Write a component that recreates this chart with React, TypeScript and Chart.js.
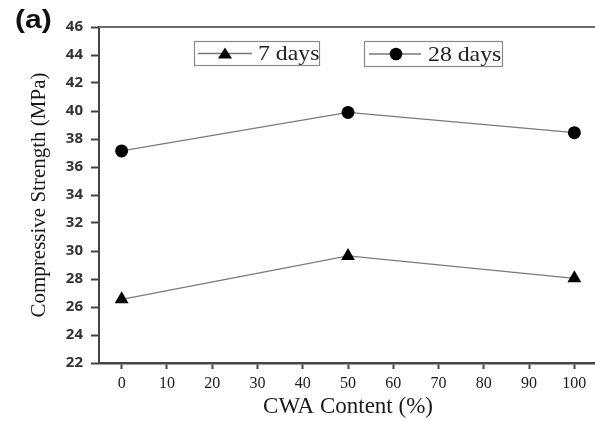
import React, { useEffect, useRef } from "react";
import { Chart, registerables } from "chart.js";

Chart.register(...registerables);

const cwaContent = [0, 50, 100];
const days7 = [26.55, 29.65, 28.05];
const days28 = [37.15, 39.9, 38.45];
const xTickValues = [0, 10, 20, 30, 40, 50, 60, 70, 80, 90, 100];
const seriesLabels = ["7 days", "28 days"];
const panelLabel = "(a)";
const xTitle = "CWA Content (%)";
const yTitle = "Compressive Strength (MPa)";

const SERIF = "'Liberation Serif', 'Times New Roman', serif";

const extrasPlugin = {
  id: "extras",
  afterDraw(chart: any) {
    const { ctx, chartArea } = chart;
    ctx.save();
    // top frame line
    ctx.strokeStyle = "#6a6a6a";
    ctx.lineWidth = 2;
    ctx.beginPath();
    ctx.moveTo(chartArea.left, chartArea.top);
    ctx.lineTo(chartArea.right, chartArea.top);
    ctx.stroke();

    // panel label
    ctx.fillStyle = "#111";
    ctx.font = "bold 25px 'Liberation Sans', Arial, sans-serif";
    ctx.textBaseline = "alphabetic";
    ctx.save();
    ctx.translate(15, 28);
    ctx.scale(1.2, 1);
    ctx.fillText(panelLabel, 0, 0);
    ctx.restore();

    // legend boxes
    const boxes = [
      { x: 194.5, y: 41.5, w: 125, h: 24, lx0: 198, lx1: 252, mx: 225, tx: 258, style: "triangle", text: seriesLabels[0] },
      { x: 364.5, y: 41.5, w: 138, h: 25, lx0: 369, lx1: 421, mx: 396, tx: 428, style: "circle", text: seriesLabels[1] },
    ];
    boxes.forEach((b) => {
      ctx.strokeStyle = "#8a8a8a";
      ctx.lineWidth = 1.2;
      ctx.strokeRect(b.x, b.y, b.w, b.h);
      const cy = b.y + b.h / 2;
      ctx.strokeStyle = "#777";
      ctx.lineWidth = 1.3;
      ctx.beginPath();
      ctx.moveTo(b.lx0, cy);
      ctx.lineTo(b.lx1, cy);
      ctx.stroke();
      ctx.fillStyle = "#000";
      ctx.beginPath();
      if (b.style === "triangle") {
        ctx.moveTo(b.mx, cy - 6);
        ctx.lineTo(b.mx + 7, cy + 5);
        ctx.lineTo(b.mx - 7, cy + 5);
        ctx.closePath();
      } else {
        ctx.arc(b.mx, cy, 6.3, 0, Math.PI * 2);
      }
      ctx.fill();
      ctx.fillStyle = "#222";
      ctx.font = `22px ${SERIF}`;
      ctx.textBaseline = "middle";
      ctx.save();
      ctx.translate(b.tx, cy + 1);
      ctx.scale(1.08, 1);
      ctx.fillText(b.text, 0, 0);
      ctx.restore();
    });
    ctx.restore();
  },
};

export default function App() {
  const canvasRef = useRef<HTMLCanvasElement>(null);

  useEffect(() => {
    if (!canvasRef.current) return;
    const chart = new Chart(canvasRef.current, {
      type: "line",
      data: {
        datasets: [
          {
            label: seriesLabels[0],
            data: cwaContent.map((x, i) => ({ x, y: days7[i] })),
            borderColor: "#7a7a7a",
            borderWidth: 1.3,
            backgroundColor: "#000",
            pointStyle: "triangle",
            pointRadius: 8,
            pointBackgroundColor: "#000",
            pointBorderColor: "#000",
            pointBorderWidth: 0,
            tension: 0,
          },
          {
            label: seriesLabels[1],
            data: cwaContent.map((x, i) => ({ x, y: days28[i] })),
            borderColor: "#7a7a7a",
            borderWidth: 1.3,
            backgroundColor: "#000",
            pointStyle: "circle",
            pointRadius: 6.5,
            pointBackgroundColor: "#000",
            pointBorderColor: "#000",
            pointBorderWidth: 0,
            tension: 0,
          },
        ],
      },
      options: {
        responsive: false,
        animation: false,
        layout: { padding: { top: 27, right: 0, bottom: 0, left: 0 } },
        plugins: {
          legend: { display: false },
          tooltip: { enabled: false },
        },
        scales: {
          x: {
            type: "linear",
            min: -5,
            max: 105,
            afterBuildTicks: (s: any) => {
              s.ticks = xTickValues.map((v) => ({ value: v }));
            },
            afterFit: (s: any) => {
              s.height = 58;
              s.paddingLeft = 0;
              s.paddingRight = 0;
            },
            grid: {
              drawOnChartArea: false,
              drawTicks: true,
              tickLength: 6,
              tickWidth: 2,
              tickColor: "#444",
            },
            border: { color: "#444", width: 2.5 },
            ticks: {
              autoSkip: false,
              maxRotation: 0,
              padding: 5,
              color: "#1a1a1a",
              font: { family: SERIF, size: 16 },
            },
            title: {
              display: true,
              text: xTitle,
              color: "#1a1a1a",
              font: { family: SERIF, size: 23 },
              padding: { top: 0, bottom: 0 },
            },
          },
          y: {
            type: "linear",
            min: 22,
            max: 46,
            afterFit: (s: any) => {
              s.width = 99;
            },
            grid: {
              drawOnChartArea: false,
              drawTicks: true,
              tickLength: 8,
              tickWidth: 2,
              tickColor: "#444",
            },
            border: { color: "#444", width: 2 },
            ticks: {
              stepSize: 2,
              padding: 8,
              color: "#333",
              font: { family: "'Open Sans', sans-serif", size: 15, weight: "bold" },
            },
            title: {
              display: true,
              text: yTitle,
              color: "#1a1a1a",
              font: { family: SERIF, size: 21 },
              padding: { top: 27, bottom: 0 },
            },
          },
        },
      },
      plugins: [extrasPlugin],
    });
    return () => chart.destroy();
  }, []);

  return (
    <div style={{ position: "fixed", left: 0, top: 0, width: 595, height: 421, background: "#fff", overflow: "hidden" }}>
      <canvas ref={canvasRef} width={605} height={421} style={{ display: "block" }} />
    </div>
  );
}
